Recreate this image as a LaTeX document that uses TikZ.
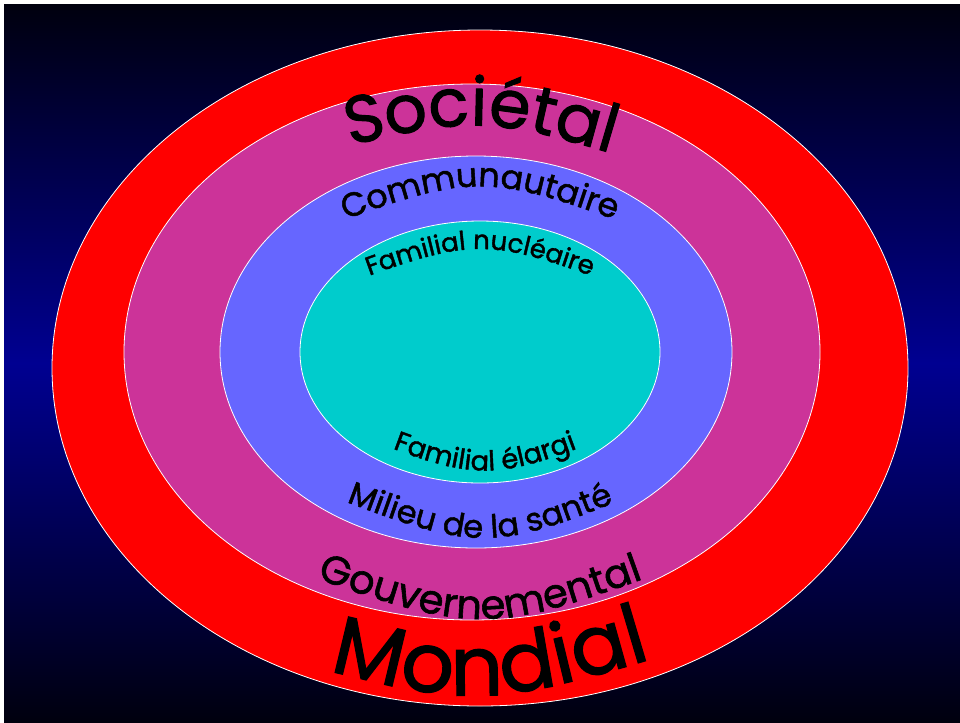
\documentclass[tikz,border=0pt]{standalone}
\usepackage{fontspec}
\newfontfamily\ringfont{Poppins}[FakeBold=1.5]
\usetikzlibrary{decorations.text}
\definecolor{bgnavy}{RGB}{0,0,145}
\definecolor{bgdark}{RGB}{0,0,14}
\definecolor{mondialred}{RGB}{255,0,0}
\definecolor{societalpink}{RGB}{204,51,153}
\definecolor{communblue}{RGB}{102,102,255}
\definecolor{familycyan}{RGB}{0,204,204}
\tikzset{%
  % Specifications for style of the rings:
	ring/.style = {draw=white, line width=0.6pt},
  % Labels written along a curve: font size, text
	arclabel/.style 2 args = {decorate, decoration={text along path, text align=center,
	     text={|\ringfont\fontsize{#1}{#1}\selectfont|#2}}}
}

\begin{document}
\begin{tikzpicture}[x=0.75pt, y=-0.75pt]
  \useasboundingbox (0,0) rectangle (960,722);
  % Background, dark at top and bottom
  \shade [top color=bgdark, bottom color=bgnavy] (4,4) rectangle (960,363);
  \shade [top color=bgnavy, bottom color=bgdark] (4,363) rectangle (960,722);

  % Specification of rings (outside in)
  \path [ring, fill=mondialred]   (480,368) ellipse [x radius=428, y radius=338];
  \path [ring, fill=societalpink] (472,352) ellipse [x radius=348, y radius=268];
  \path [ring, fill=communblue]   (476,352) ellipse [x radius=256, y radius=196];
  \path [ring, fill=familycyan]   (480,352) ellipse [x radius=180, y radius=131];

  % Labels on top arcs
  \path [arclabel={50}{Sociétal}]           (300,158) .. controls (480,113) .. (660,168);
  \path [arclabel={25}{Communautaire}]      (300,236) .. controls (480,170) .. (660,236);
  \path [arclabel={19.5}{Familial nucléaire}] (320,294) .. controls (480,234) .. (640,294);
  % Labels on bottom arcs
  \path [arclabel={20.5}{Familial élargi}]  (330,424) .. controls (485,486) .. (640,424);
  \path [arclabel={24}{Milieu de la santé}] (300,484) .. controls (485,556) .. (660,484);
  \path [arclabel={30}{Gouvernemental}]     (270,562) .. controls (482,638) .. (690,562);
  \path [arclabel={62}{Mondial}]            (260,652) .. controls (480,712) .. (720,638);
\end{tikzpicture}
\end{document}
